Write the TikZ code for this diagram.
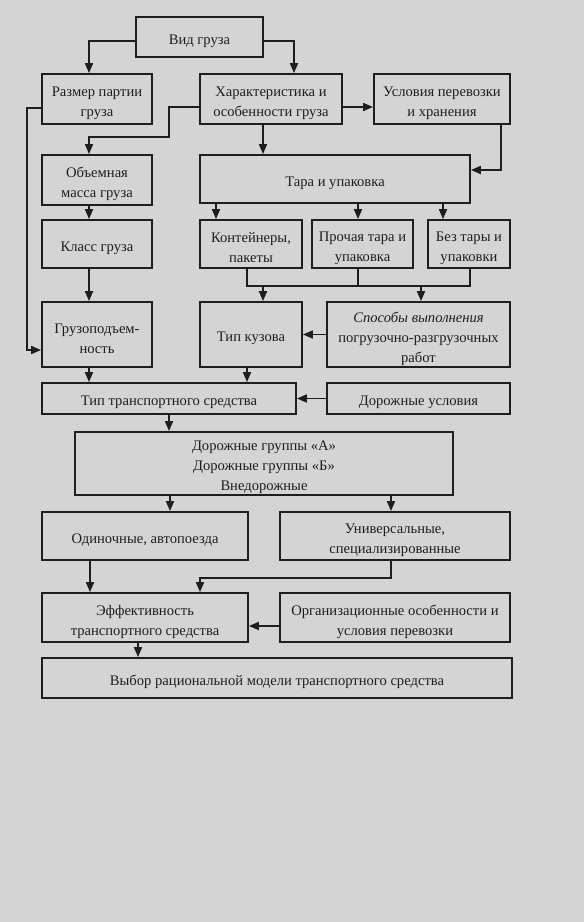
\documentclass[tikz,border=0pt]{standalone}
\usepackage{fontspec}
\setmainfont{Liberation Serif}
\usetikzlibrary{arrows.meta}
\definecolor{bg}{RGB}{212,212,212}
\definecolor{ink}{RGB}{30,30,30}
\begin{document}
\begin{tikzpicture}[x=1pt,y=-1pt,
  box/.style={draw=ink, line width=1.8pt, inner sep=0pt},
  txt/.style={align=center, inner sep=0pt, yshift=-4pt,
    font=\fontsize{14.6}{20}\selectfont, text=ink},
  arr/.style={draw=ink, line width=1.8pt, -{Triangle[length=10pt,width=8pt]}},
  ln/.style={draw=ink, line width=1.8pt}]
\fill[bg] (0,0) rectangle (584,922);
\useasboundingbox (0,0) rectangle (584,922);
% boxes
\node[box, minimum width=127pt, minimum height=40pt, label={[txt]center:{Вид груза}}] (vid) at (199.5,37) {};
\node[box, minimum width=110pt, minimum height=50pt, label={[txt]center:{Размер партии\\груза}}] (razm) at (97,99) {};
\node[box, minimum width=142pt, minimum height=50pt, label={[txt]center:{Характеристика и\\особенности груза}}] (har) at (271,99) {};
\node[box, minimum width=136pt, minimum height=50pt, label={[txt]center:{Условия перевозки\\и хранения}}] (usl) at (442,99) {};
\node[box, minimum width=110pt, minimum height=50pt, label={[txt]center:{Объемная\\масса груза}}] (obm) at (97,180) {};
\node[box, minimum width=270pt, minimum height=48pt, label={[txt]center:{Тара и упаковка}}] (tara) at (335,179) {};
\node[box, minimum width=110pt, minimum height=48pt, label={[txt]center:{Класс груза}}] (klass) at (97,244) {};
\node[box, minimum width=102pt, minimum height=48pt, label={[txt]center:{Контейнеры,\\пакеты}}] (kont) at (251,244) {};
\node[box, minimum width=101pt, minimum height=48pt, label={[txt]center:{Прочая тара и\\упаковка}}] (proch) at (362.5,244) {};
\node[box, minimum width=82pt, minimum height=48pt, label={[txt]center:{Без тары и\\упаковки}}] (bez) at (469,244) {};
\node[box, minimum width=110pt, minimum height=65pt, label={[txt]center:{Грузоподъем-\\ность}}] (gruz) at (97,334.5) {};
\node[box, minimum width=102pt, minimum height=65pt, label={[txt]center:{Тип кузова}}] (kuz) at (251,334.5) {};
\node[box, minimum width=183pt, minimum height=65pt, label={[txt]center:{\textit{Способы выполнения}\\погрузочно-разгрузочных\\работ}}] (sposob) at (418.5,334.5) {};
\node[box, minimum width=254pt, minimum height=31pt, label={[txt]center:{Тип транспортного средства}}] (tip) at (169,398.5) {};
\node[box, minimum width=183pt, minimum height=31pt, label={[txt]center:{Дорожные условия}}] (dor) at (418.5,398.5) {};
\node[box, minimum width=378pt, minimum height=63pt, label={[txt]center:{Дорожные группы «А»\\Дорожные группы «Б»\\Внедорожные}}] (grp) at (264,463.5) {};
\node[box, minimum width=206pt, minimum height=48pt, label={[txt]center:{Одиночные, автопоезда}}] (odin) at (145,536) {};
\node[box, minimum width=230pt, minimum height=48pt, label={[txt]center:{Универсальные,\\специализированные}}] (univ) at (395,536) {};
\node[box, minimum width=206pt, minimum height=49pt, label={[txt]center:{Эффективность\\транспортного средства}}] (eff) at (145,617.5) {};
\node[box, minimum width=230pt, minimum height=49pt, label={[txt]center:{Организационные особенности и\\условия перевозки}}] (org) at (395,617.5) {};
\node[box, minimum width=470pt, minimum height=40pt, label={[txt]center:{Выбор рациональной модели транспортного средства}}] (vyb) at (277,678) {};
% helper coordinates
\coordinate (razmT) at ([xshift=-8pt]razm.north);
\coordinate (harT) at ([xshift=23pt]har.north);
\coordinate (obmT) at ([xshift=-8pt]obm.north);
\coordinate (obmB) at ([xshift=-8pt]obm.south);
\coordinate (klassB) at ([xshift=-8pt]klass.south);
\coordinate (gruzB) at ([xshift=-8pt]gruz.south);
\coordinate (harB) at ([xshift=-8pt]har.south);
\coordinate (kontT) at ([xshift=-35pt]kont.north);
\coordinate (prochT) at ([xshift=-4.5pt]proch.north);
\coordinate (bezT) at ([xshift=-26pt]bez.north);
\coordinate (kontB) at ([xshift=-4pt]kont.south);
\coordinate (prochB) at ([xshift=-4.5pt]proch.south);
\coordinate (bezB) at ([xshift=1pt]bez.south);
\coordinate (mg) at ([yshift=-17pt]kont.south);
\coordinate (kuzT) at ([xshift=12pt]kuz.north);
\coordinate (spT) at ([xshift=2.5pt]sposob.north);
\coordinate (kuzB) at ([xshift=-4pt]kuz.south);
\coordinate (odinT) at ([xshift=25pt]odin.north);
\coordinate (univT) at ([xshift=-4pt]univ.north);
\coordinate (odinB) at ([xshift=-55pt]odin.south);
\coordinate (effT) at ([xshift=55pt]eff.north);
\coordinate (effB) at ([xshift=-7pt]eff.south);
% connectors
\draw[arr] ([yshift=-4pt]vid.west) -| (razmT);
\draw[arr] ([yshift=-4pt]vid.east) -| (harT);
\draw[arr] ([yshift=-8pt]har.east) -- ([yshift=-8pt]har.east -| usl.west);
\draw[arr] ([yshift=-8pt]har.west) -- ++(-30,0) -- ++(0,30) -| (obmT);
\draw[arr] ([yshift=-9pt]razm.west) -- ++(-14,0) |- ([yshift=-15.5pt]gruz.west);
\draw[arr] (harB) -- (harB |- tara.north);
\draw[arr] ([xshift=59pt]usl.south) |- ([yshift=9pt]tara.east);
\draw[arr] (obmB) -- (obmB |- klass.north);
\draw[arr] (klassB) -- (klassB |- gruz.north);
\draw[arr] (kontT |- tara.south) -- (kontT);
\draw[arr] (prochT |- tara.south) -- (prochT);
\draw[arr] (bezT |- tara.south) -- (bezT);
\draw[ln] (kontB) |- (bezB |- mg) -- (bezB);
\draw[ln] (prochB) -- (prochB |- mg);
\draw[arr] (kuzT |- mg) -- (kuzT);
\draw[arr] (spT |- mg) -- (spT);
\draw[arr] (sposob.west) -- (sposob.west -| kuz.east);
\draw[arr] (gruzB) -- (gruzB |- tip.north);
\draw[arr] (kuzB) -- (kuzB |- tip.north);
\draw[arr] (dor.west) -- (dor.west -| tip.east);
\draw[arr] (tip.south) -- (tip.south |- grp.north);
\draw[arr] (odinT |- grp.south) -- (odinT);
\draw[arr] (univT |- grp.south) -- (univT);
\draw[arr] (odinB) -- (odinB |- eff.north);
\draw[arr] ([xshift=-4pt]univ.south) -- ++(0,17) -| (effT);
\draw[arr] ([yshift=-8.5pt]org.west) -- ([yshift=-8.5pt]org.west -| eff.east);
\draw[arr] (effB) -- (effB |- vyb.north);
\end{tikzpicture}
\end{document}
